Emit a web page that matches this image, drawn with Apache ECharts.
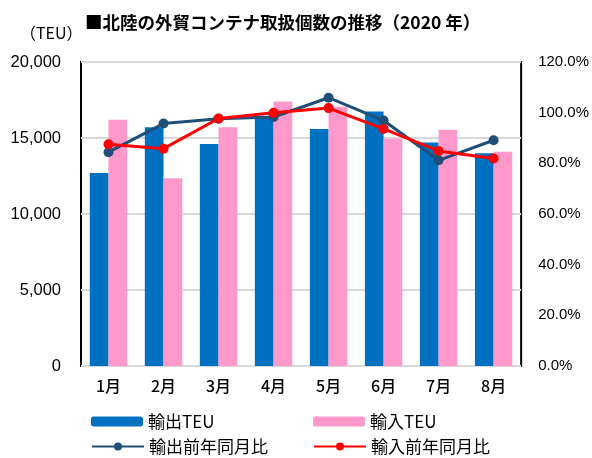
<!DOCTYPE html>
<html>
<head>
<meta charset="utf-8">
<script src="https://cdn.jsdelivr.net/npm/echarts@6/dist/echarts.min.js"></script>
<style>
  html, body { margin: 0; padding: 0; background: #fff; }
  #chart { width: 592px; height: 458px; }
</style>
</head>
<body>
<div id="chart"></div>
<script>
// 月別カテゴリ
const months = ['1月', '2月', '3月', '4月', '5月', '6月', '7月', '8月'];
// 輸出・輸入コンテナ個数（TEU）
const exportTEU = [12700, 15700, 14600, 16400, 15600, 16750, 14700, 14000];
const importTEU = [16200, 12350, 15700, 17400, 17050, 14950, 15550, 14100];
// 前年同月比（%）
const exportYoY = [84.4, 95.7, 97.6, 98.3, 105.9, 96.9, 81.2, 89.1];
const importYoY = [87.5, 85.8, 97.7, 100.0, 101.8, 93.6, 84.9, 81.9];

const jpFont = '"Noto Sans CJK JP", "Liberation Sans", sans-serif';
const numFont = '"Liberation Sans", Arial, sans-serif';

const chart = echarts.init(document.getElementById('chart'), null, { renderer: 'canvas' });

function legendAt(name, left, top) {
  return {
    data: [name],
    left: left,
    top: top,
    itemWidth: 52,
    itemHeight: 10,
    textStyle: { fontFamily: jpFont, fontSize: 17, color: '#000' },
    selectedMode: false
  };
}

chart.setOption({
  animation: false,
  backgroundColor: '#fff',
  title: [
    {
      text: '■北陸の外貿コンテナ取扱個数の推移（2020 年）',
      left: 80,
      top: 9,
      textStyle: { fontFamily: jpFont, fontSize: 17.5, fontWeight: 'bold', color: '#000' }
    },
    {
      text: '（TEU）',
      left: 15,
      top: 20,
      textStyle: { fontFamily: jpFont, fontSize: 16, fontWeight: 'normal', color: '#000' }
    }
  ],
  legend: [
    legendAt('輸出TEU', 86, 408),
    legendAt('輸入TEU', 308, 408),
    legendAt('輸出前年同月比', 86, 433),
    legendAt('輸入前年同月比', 308, 433)
  ],
  grid: {
    left: 81, right: 63, top: 62, bottom: 92,
    show: true, borderColor: '#000', borderWidth: 2,
    containLabel: false
  },
  xAxis: {
    type: 'category',
    data: months,
    axisLine: { show: false },
    axisTick: { show: false },
    axisLabel: { fontFamily: jpFont, fontSize: 16, fontWeight: 500, color: '#000', margin: 12 }
  },
  yAxis: [
    {
      type: 'value',
      min: 0, max: 20000, interval: 5000,
      axisLine: { show: false },
      axisTick: { show: false },
      splitLine: { lineStyle: { color: '#d9d9d9', width: 2 } },
      axisLabel: {
        fontFamily: numFont, fontSize: 16.5, color: '#000', margin: 20,
        formatter: v => v.toLocaleString('en-US')
      }
    },
    {
      type: 'value',
      min: 0, max: 120, interval: 20,
      position: 'right',
      axisLine: { show: false },
      axisTick: { show: false },
      splitLine: { show: false },
      axisLabel: {
        fontFamily: numFont, fontSize: 15, color: '#000', margin: 17,
        formatter: v => v.toFixed(1) + '%'
      }
    }
  ],
  series: [
    {
      name: '輸出TEU', type: 'bar', data: exportTEU, yAxisIndex: 0,
      itemStyle: { color: '#0070C0' },
      barGap: '0%', barCategoryGap: '32%'
    },
    {
      name: '輸入TEU', type: 'bar', data: importTEU, yAxisIndex: 0,
      itemStyle: { color: '#FF99CC' },
      barGap: '0%', barCategoryGap: '32%'
    },
    {
      name: '輸出前年同月比', type: 'line', data: exportYoY, yAxisIndex: 1,
      symbol: 'circle', symbolSize: 10,
      lineStyle: { color: '#1F4E79', width: 3 },
      itemStyle: { color: '#1F4E79' }
    },
    {
      name: '輸入前年同月比', type: 'line', data: importYoY, yAxisIndex: 1,
      symbol: 'circle', symbolSize: 10,
      lineStyle: { color: '#FF0000', width: 3 },
      itemStyle: { color: '#FF0000' }
    }
  ]
});
</script>
</body>
</html>
